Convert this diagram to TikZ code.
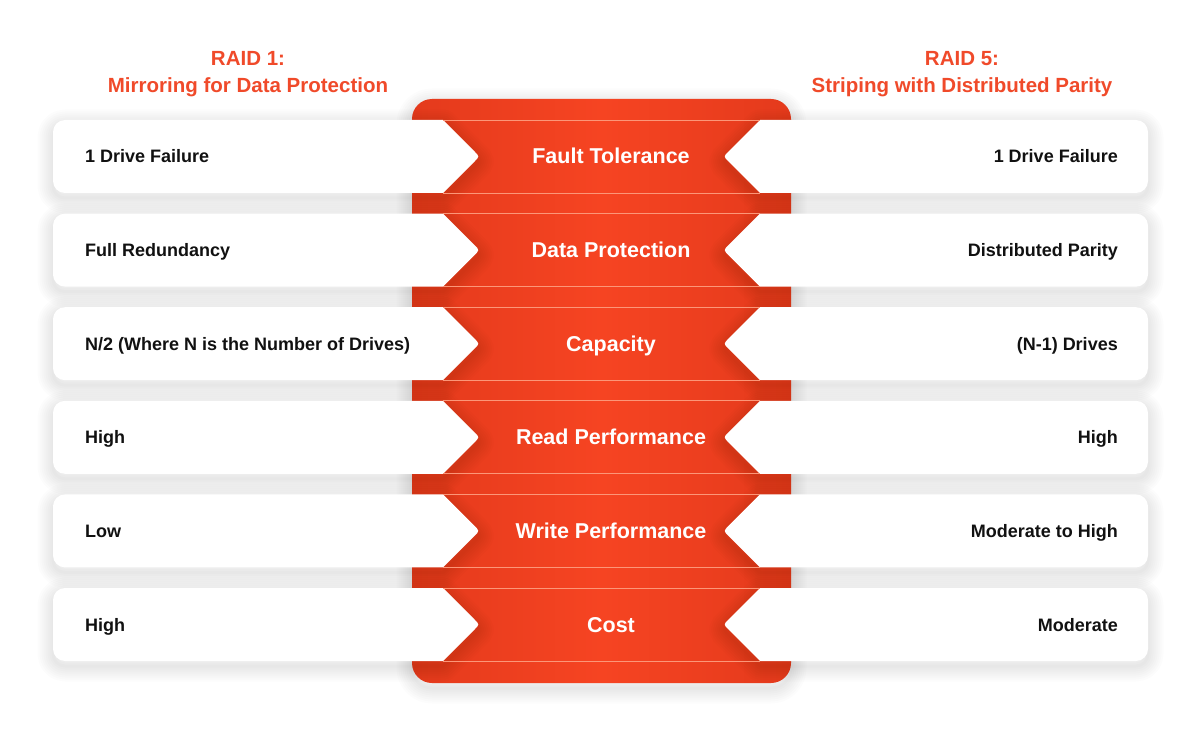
\documentclass[tikz,border=0pt]{standalone}
\usepackage{fontspec}
\setmainfont{Liberation Sans}
\definecolor{raidred}{RGB}{246,68,34}
\definecolor{raiddark}{RGB}{228,58,28}
\definecolor{headred}{RGB}{240,74,42}
\definecolor{seamcol}{RGB}{252,150,120}
\definecolor{bodytxt}{RGB}{17,17,17}
\tikzset{
  shadowlayer/.style={draw=black, draw opacity=0.011, line width=#1, line join=round, yshift=-5pt},
  cardbox/.style={fill=white},
  spine/.style={left color=raiddark, right color=raiddark, middle color=raidred},
  seam/.style={draw=seamcol, line width=0.8pt},
  headtxt/.style={text=headred, font=\fontsize{20.5}{27}\selectfont\bfseries, align=center},
  lefttxt/.style={text=bodytxt, font=\fontsize{18}{20}\selectfont\bfseries, anchor=base west, inner sep=0pt},
  righttxt/.style={text=bodytxt, font=\fontsize{18}{20}\selectfont\bfseries, anchor=base east, inner sep=0pt},
  midtxt/.style={text=white, font=\fontsize{21.5}{24}\selectfont\bfseries, anchor=base, inner sep=0pt}
}
\newcommand\leftcard{(443,\yt) -- (474.5,\yc-5) .. controls (479.5,\yc) .. (474.5,\yc+5) -- (443,\yb)
     -- (65,\yb) .. controls (58.4,\yb) and (53,\yb-5.4) .. (53,\yb-12) -- (53,\yt+12)
     .. controls (53,\yt+5.4) and (58.4,\yt) .. (65,\yt) -- cycle}
\newcommand\rightcard{(760,\yt) -- (1136,\yt) .. controls (1142.6,\yt) and (1148,\yt+5.4) .. (1148,\yt+12)
     -- (1148,\yb-12) .. controls (1148,\yb-5.4) and (1142.6,\yb) .. (1136,\yb) -- (760,\yb)
     -- (728.5,\yc+5) .. controls (723.5,\yc) .. (728.5,\yc-5) -- cycle}
\newcommand\rowgeom[1]{%
  \pgfmathsetmacro\yc{156.5+93.6*(#1-1)}%
  \pgfmathsetmacro\yt{\yc-36.5}%
  \pgfmathsetmacro\yb{\yc+36.5}%
}
\newcommand\rowshadow[1]{%
  \rowgeom{#1}%
  \foreach \w in {3,7,11,15,19,23,27,31} {
    \path[shadowlayer=\w pt] \leftcard;
    \path[shadowlayer=\w pt] \rightcard;
  }
}
\newcommand\raidrow[4]{%
  \rowgeom{#1}%
  \path[cardbox] \leftcard;
  \path[cardbox] \rightcard;
  \draw[seam] (443,\yt) -- (760,\yt);
  \draw[seam] (443,\yb) -- (760,\yb);
  \node[lefttxt] (l#1) at (85,\yc+6.5) {#2};
  \node[midtxt] (m#1) at (611,\yc+7.5) {#3};
  \node[righttxt] (r#1) at (1118,\yc+6.5) {#4};
}
\begin{document}
\begin{tikzpicture}[x=1pt,y=-1pt]
\useasboundingbox[fill=white] (0,0) rectangle (1200,730);
% spine shadow
\foreach \w in {3,7,11,15,19,23,27,31} {
  \path[shadowlayer=\w pt, rounded corners=20pt] (412,99) rectangle (791,683);
}
\path[spine, rounded corners=20pt] (412,99) rectangle (791,683);
\node[headtxt] (h1) at (248,74.5) {RAID 1:\\Mirroring for Data Protection};
\node[headtxt] (h5) at (962,74.5) {RAID 5:\\Striping with Distributed Parity};
\rowshadow{1}\rowshadow{2}\rowshadow{3}\rowshadow{4}\rowshadow{5}\rowshadow{6}
\raidrow{1}{1 Drive Failure}{Fault Tolerance}{1 Drive Failure}
\raidrow{2}{Full Redundancy}{Data Protection}{Distributed Parity}
\raidrow{3}{N/2 (Where N is the Number of Drives)}{Capacity}{(N-1) Drives}
\raidrow{4}{High}{Read Performance}{High}
\raidrow{5}{Low}{Write Performance}{Moderate to High}
\raidrow{6}{High}{Cost}{Moderate}
\end{tikzpicture}
\end{document}
